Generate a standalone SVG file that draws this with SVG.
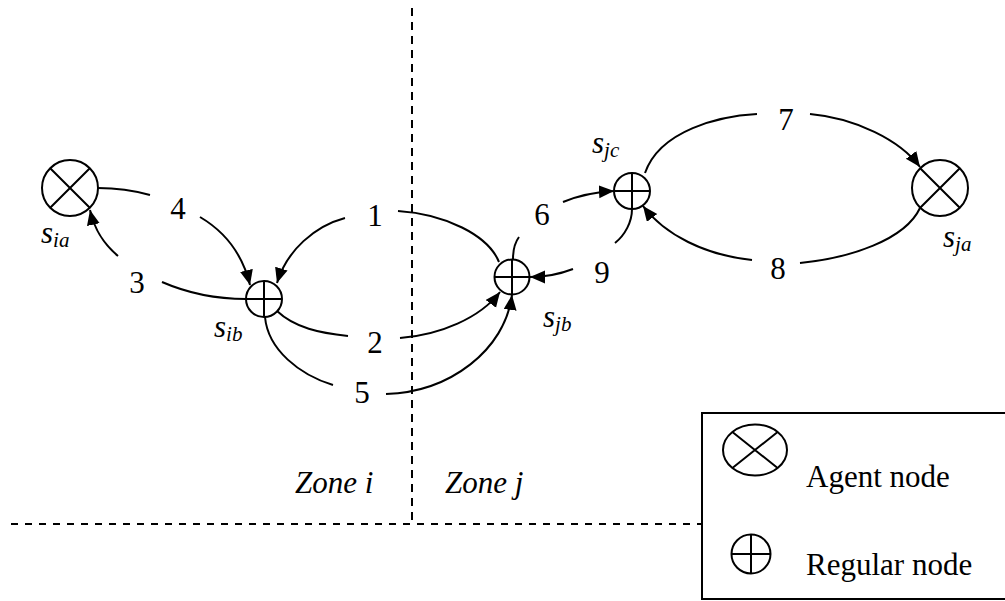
<svg xmlns="http://www.w3.org/2000/svg" width="1005" height="601" viewBox="0 0 1005 601">
<style>
.ln{fill:none;stroke:#000;stroke-width:2}
.arr{fill:none;stroke:#000;stroke-width:2;marker-end:url(#ah)}
.nd{fill:#fff;stroke:#000;stroke-width:2}
.dash{fill:none;stroke:#000;stroke-width:2}
.num{font-family:"Liberation Serif","Times New Roman","DejaVu Serif",serif;font-size:31px;text-anchor:middle;fill:#000}
.lab{font-family:"Liberation Serif","Times New Roman","DejaVu Serif",serif;font-size:31px;font-style:italic;fill:#000}
.sub{font-size:21px}
.leg{font-family:"Liberation Serif","Times New Roman","DejaVu Serif",serif;font-size:31px;fill:#000}
</style>
<defs>
<marker id="ah" markerUnits="userSpaceOnUse" markerWidth="16" markerHeight="14" refX="15" refY="6.5" orient="auto">
<path d="M0,0 L15,6.5 L0,13 z" fill="#000"/>
</marker>
</defs>
<rect width="1005" height="601" fill="#fff"/>
<g id="zones">
<line class="dash" x1="412" y1="8" x2="412" y2="524" stroke-dasharray="8,6"/>
<line class="dash" x1="11" y1="524" x2="702" y2="524" stroke-dasharray="7,7"/>
<text class="lab" x="295" y="493">Zone i</text>
<text class="lab" x="445" y="493">Zone j</text>
</g>
<g id="connectors">
<path class="ln" d="M98,188 Q125,188 150,195"/>
<path class="arr" d="M200,217 C222,230 242,252 250,285"/>
<path class="arr" d="M345,218 C315,226 287,250 277,283"/>
<path class="ln" d="M398,211 C445,214 488,235 499,262"/>
<path class="ln" d="M246,299 C210,299 185,292 162,282"/>
<path class="arr" d="M118,256 C105,245 95,232 90,210"/>
<path class="ln" d="M277,311 C295,328 320,333 348,336"/>
<path class="arr" d="M400,338 C440,335 480,318 500,292"/>
<path class="ln" d="M265,317 C268,350 300,375 333,385"/>
<path class="arr" d="M386,394 C450,392 505,350 512,295"/>
<path class="ln" d="M513,259 Q513,245 519,237"/>
<path class="arr" d="M563,202 C580,195 595,192 614,191"/>
<path class="ln" d="M632,209 C632,222 625,235 615,243"/>
<path class="arr" d="M573,269 C560,274 545,277 530,277"/>
<path class="ln" d="M645,173 C660,130 720,116 757,114"/>
<path class="arr" d="M810,114 C855,118 900,140 920,167"/>
<path class="ln" d="M920,208 C905,240 850,258 800,263"/>
<path class="arr" d="M752,260 C705,255 665,235 643,206"/>
<text class="num" x="178" y="219">4</text>
<text class="num" x="137" y="293">3</text>
<text class="num" x="375" y="226">1</text>
<text class="num" x="375" y="353">2</text>
<text class="num" x="362" y="403">5</text>
<text class="num" x="542" y="225">6</text>
<text class="num" x="602" y="283">9</text>
<text class="num" x="786" y="130">7</text>
<text class="num" x="778" y="279">8</text>
</g>
<g id="s_ia">
<circle class="nd" cx="70" cy="188" r="28"/>
<path class="ln" d="M50.2,168.2 L89.8,207.8 M89.8,168.2 L50.2,207.8"/>
<text class="lab" x="41" y="243">s<tspan class="sub" dy="4">ia</tspan></text>
</g>
<g id="s_ib">
<circle class="nd" cx="264" cy="299" r="18"/>
<path class="ln" d="M246,299 L282,299 M264,281 L264,317"/>
<text class="lab" x="214" y="337">s<tspan class="sub" dy="4">ib</tspan></text>
</g>
<g id="s_jb">
<circle class="nd" cx="512" cy="277" r="17.5"/>
<path class="ln" d="M494.5,277 L529.5,277 M512,259.5 L512,294.5"/>
<text class="lab" x="543" y="327">s<tspan class="sub" dy="4">jb</tspan></text>
</g>
<g id="s_jc">
<circle class="nd" cx="632" cy="191" r="18"/>
<path class="ln" d="M614,191 L650,191 M632,173 L632,209"/>
<text class="lab" x="592" y="153">s<tspan class="sub" dy="4">jc</tspan></text>
</g>
<g id="s_ja">
<circle class="nd" cx="940" cy="188" r="28"/>
<path class="ln" d="M920.2,168.2 L959.8,207.8 M959.8,168.2 L920.2,207.8"/>
<text class="lab" x="943" y="247">s<tspan class="sub" dy="4">ja</tspan></text>
</g>
<g id="legend">
<rect x="702" y="413" width="320" height="186" fill="#fff" stroke="#000" stroke-width="2"/>
<ellipse class="nd" cx="755" cy="450" rx="32" ry="25.5"/>
<path class="ln" d="M732.4,432 L777.6,468 M777.6,432 L732.4,468"/>
<text class="leg" x="806" y="487">Agent node</text>
<circle class="nd" cx="751" cy="554" r="19.5"/>
<path class="ln" d="M731.5,554 L770.5,554 M751,534.5 L751,573.5"/>
<text class="leg" x="806" y="575">Regular node</text>
</g>
</svg>
